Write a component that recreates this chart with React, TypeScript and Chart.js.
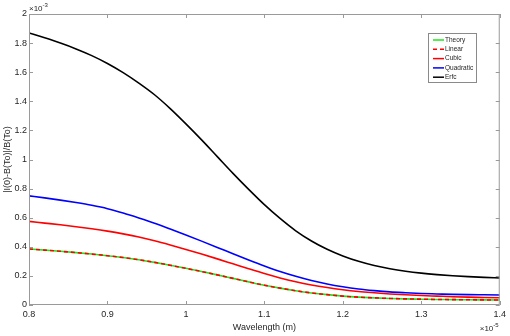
import { useEffect, useRef } from 'react';
import { Chart, registerables } from 'chart.js';

Chart.register(...registerables);

// Wavelength in units of 1e-5 m
const wavelength = [
  0.8, 0.82, 0.84, 0.86, 0.88, 0.9, 0.92, 0.94, 0.96, 0.98,
  1.0, 1.02, 1.04, 1.06, 1.08, 1.1, 1.12, 1.14, 1.16, 1.18,
  1.2, 1.22, 1.24, 1.26, 1.28, 1.3, 1.32, 1.34, 1.36, 1.38, 1.4,
];

// Values in units of 1e-3
const theory = [
  0.385, 0.377, 0.369, 0.36, 0.35, 0.339, 0.326, 0.311, 0.293, 0.273,
  0.252, 0.23, 0.207, 0.183, 0.159, 0.136, 0.116, 0.098, 0.083, 0.071,
  0.061, 0.054, 0.049, 0.045, 0.042, 0.04, 0.038, 0.037, 0.036, 0.035, 0.034,
];
const linear = [
  0.385, 0.377, 0.369, 0.36, 0.35, 0.339, 0.326, 0.311, 0.293, 0.273,
  0.252, 0.23, 0.207, 0.183, 0.159, 0.136, 0.116, 0.098, 0.083, 0.071,
  0.061, 0.054, 0.049, 0.045, 0.042, 0.04, 0.038, 0.037, 0.036, 0.035, 0.034,
];
const cubic = [
  0.575, 0.563, 0.551, 0.538, 0.524, 0.508, 0.489, 0.467, 0.442, 0.413,
  0.382, 0.35, 0.317, 0.283, 0.249, 0.216, 0.186, 0.16, 0.138, 0.12,
  0.105, 0.093, 0.084, 0.076, 0.07, 0.065, 0.061, 0.057, 0.054, 0.052, 0.05,
];
const quadratic = [
  0.75, 0.736, 0.721, 0.704, 0.685, 0.662, 0.632, 0.598, 0.562, 0.522,
  0.481, 0.439, 0.396, 0.352, 0.309, 0.268, 0.23, 0.197, 0.168, 0.144,
  0.125, 0.11, 0.099, 0.09, 0.084, 0.079, 0.076, 0.073, 0.071, 0.07, 0.069,
];
const erfc = [
  1.87, 1.836, 1.8, 1.76, 1.714, 1.66, 1.597, 1.525, 1.445, 1.35,
  1.245, 1.135, 1.02, 0.905, 0.795, 0.69, 0.595, 0.51, 0.44, 0.383,
  0.337, 0.3, 0.271, 0.249, 0.232, 0.219, 0.209, 0.201, 0.195, 0.19, 0.186,
];

const seriesLabels = ['Theory', 'Linear', 'Cubic', 'Quadratic', 'Erfc'];
const xTicks = [0.8, 0.9, 1.0, 1.1, 1.2, 1.3, 1.4];
const yTicks = [0, 0.2, 0.4, 0.6, 0.8, 1.0, 1.2, 1.4, 1.6, 1.8, 2.0];
const xExponent = '-5';
const yExponent = '-3';
const xTitle = 'Wavelength (m)';
const yTitle = '|I(0)-B(To)|/B(To)';

const FONT = 'Liberation Sans, Arial, Helvetica, sans-serif';
const FRAME = '#9a9a9a';
const TEXT = '#262626';

const toPoints = (ys: number[]) => wavelength.map((x, i) => ({ x, y: ys[i] }));

const framePlugin = {
  id: 'matlabFrame',
  afterDraw(chart: any) {
    const { ctx, chartArea: a, scales } = chart;
    ctx.save();
    ctx.strokeStyle = FRAME;
    ctx.lineWidth = 1;
    ctx.strokeRect(a.left + 0.5, a.top + 0.5, a.right - a.left - 1, a.bottom - a.top - 1);
    const tl = 4;
    ctx.beginPath();
    xTicks.forEach((v) => {
      const px = Math.round(scales.x.getPixelForValue(v)) + 0.5;
      ctx.moveTo(px, a.bottom);
      ctx.lineTo(px, a.bottom - tl);
      ctx.moveTo(px, a.top);
      ctx.lineTo(px, a.top + tl);
    });
    yTicks.forEach((v) => {
      const py = Math.round(scales.y.getPixelForValue(v)) + 0.5;
      ctx.moveTo(a.left, py);
      ctx.lineTo(a.left + tl, py);
      ctx.moveTo(a.right, py);
      ctx.lineTo(a.right - tl, py);
    });
    ctx.stroke();

    // exponent labels
    ctx.fillStyle = TEXT;
    ctx.textBaseline = 'alphabetic';
    ctx.textAlign = 'left';
    ctx.font = `8px ${FONT}`;
    ctx.fillText('\u00d710', a.left, a.top - 3);
    let w = ctx.measureText('\u00d710').width;
    ctx.font = `6px ${FONT}`;
    ctx.fillText(yExponent, a.left + w, a.top - 7);
    ctx.font = `8px ${FONT}`;
    const bx = a.right - 20;
    ctx.fillText('\u00d710', bx, a.bottom + 26);
    w = ctx.measureText('\u00d710').width;
    ctx.font = `6px ${FONT}`;
    ctx.fillText(xExponent, bx + w, a.bottom + 22);

    // legend
    const lx = 428, ly = 33, lw = 48, lh = 49;
    ctx.fillStyle = '#ffffff';
    ctx.fillRect(lx, ly, lw, lh);
    ctx.strokeStyle = '#8a8a8a';
    ctx.strokeRect(lx + 0.5, ly + 0.5, lw, lh);
    ctx.font = `6.5px ${FONT}`;
    ctx.textBaseline = 'middle';
    seriesLabels.forEach((lab, i) => {
      const ds = chart.data.datasets.find((d: any) => d.label === lab);
      const yy = ly + 7 + i * 9.3;
      ctx.beginPath();
      ctx.strokeStyle = ds.borderColor;
      ctx.lineWidth = 1.5;
      ctx.setLineDash(ds.borderDash || []);
      ctx.moveTo(lx + 5, yy);
      ctx.lineTo(lx + 16, yy);
      ctx.stroke();
      ctx.setLineDash([]);
      ctx.fillStyle = TEXT;
      ctx.fillText(lab, lx + 17, yy);
    });
    ctx.restore();
  },
};

export default function App() {
  const ref = useRef<HTMLCanvasElement>(null);
  useEffect(() => {
    document.body.style.margin = '0';
    const canvas = ref.current!;
    const chart = new Chart(canvas, {
      type: 'line',
      data: {
        datasets: [
          { label: 'Theory', data: toPoints(theory), borderColor: '#1ee61e', borderWidth: 1.6, order: 2 },
          { label: 'Linear', data: toPoints(linear), borderColor: '#ff0000', borderWidth: 1.6, borderDash: [4, 3], order: 1 },
          { label: 'Cubic', data: toPoints(cubic), borderColor: '#ff0000', borderWidth: 1.6, order: 1 },
          { label: 'Quadratic', data: toPoints(quadratic), borderColor: '#0000ff', borderWidth: 1.6, order: 1 },
          { label: 'Erfc', data: toPoints(erfc), borderColor: '#000000', borderWidth: 1.6, order: 1 },
        ] as any,
      },
      options: {
        animation: false,
        responsive: false,
        devicePixelRatio: 1,
        layout: { padding: { top: 14, right: 8, left: 0, bottom: 0 } },
        elements: { point: { radius: 0 }, line: { cubicInterpolationMode: 'monotone', fill: false } },
        plugins: { legend: { display: false }, tooltip: { enabled: false } },
        scales: {
          x: {
            type: 'linear',
            min: 0.8,
            max: 1.4,
            afterBuildTicks: (s: any) => { s.ticks = xTicks.map((v) => ({ value: v })); },
            afterFit: (s: any) => { s.height = 31; },
            border: { display: false },
            grid: { display: false, drawTicks: false },
            ticks: {
              color: TEXT,
              font: { family: FONT, size: 9 },
              padding: 4,
              maxRotation: 0,
              callback: (v: any) => String(Number(Number(v).toFixed(1))),
            },
            title: { display: true, text: xTitle, color: TEXT, font: { family: FONT, size: 9 }, padding: { top: 1, bottom: 3 } },
          },
          y: {
            type: 'linear',
            min: 0,
            max: 2,
            afterBuildTicks: (s: any) => { s.ticks = yTicks.map((v) => ({ value: v })); },
            afterFit: (s: any) => { s.width = 29; },
            border: { display: false },
            grid: { display: false, drawTicks: false },
            ticks: {
              color: TEXT,
              font: { family: FONT, size: 9 },
              padding: 2,
              callback: (v: any) => String(Number(Number(v).toFixed(1))),
            },
            title: { display: true, text: yTitle, color: TEXT, font: { family: FONT, size: 9 }, padding: { top: 2, bottom: 0 } },
          },
        },
      } as any,
      plugins: [framePlugin],
    });
    return () => chart.destroy();
  }, []);
  return <canvas ref={ref} width={510} height={336} style={{ display: 'block' }} />;
}
